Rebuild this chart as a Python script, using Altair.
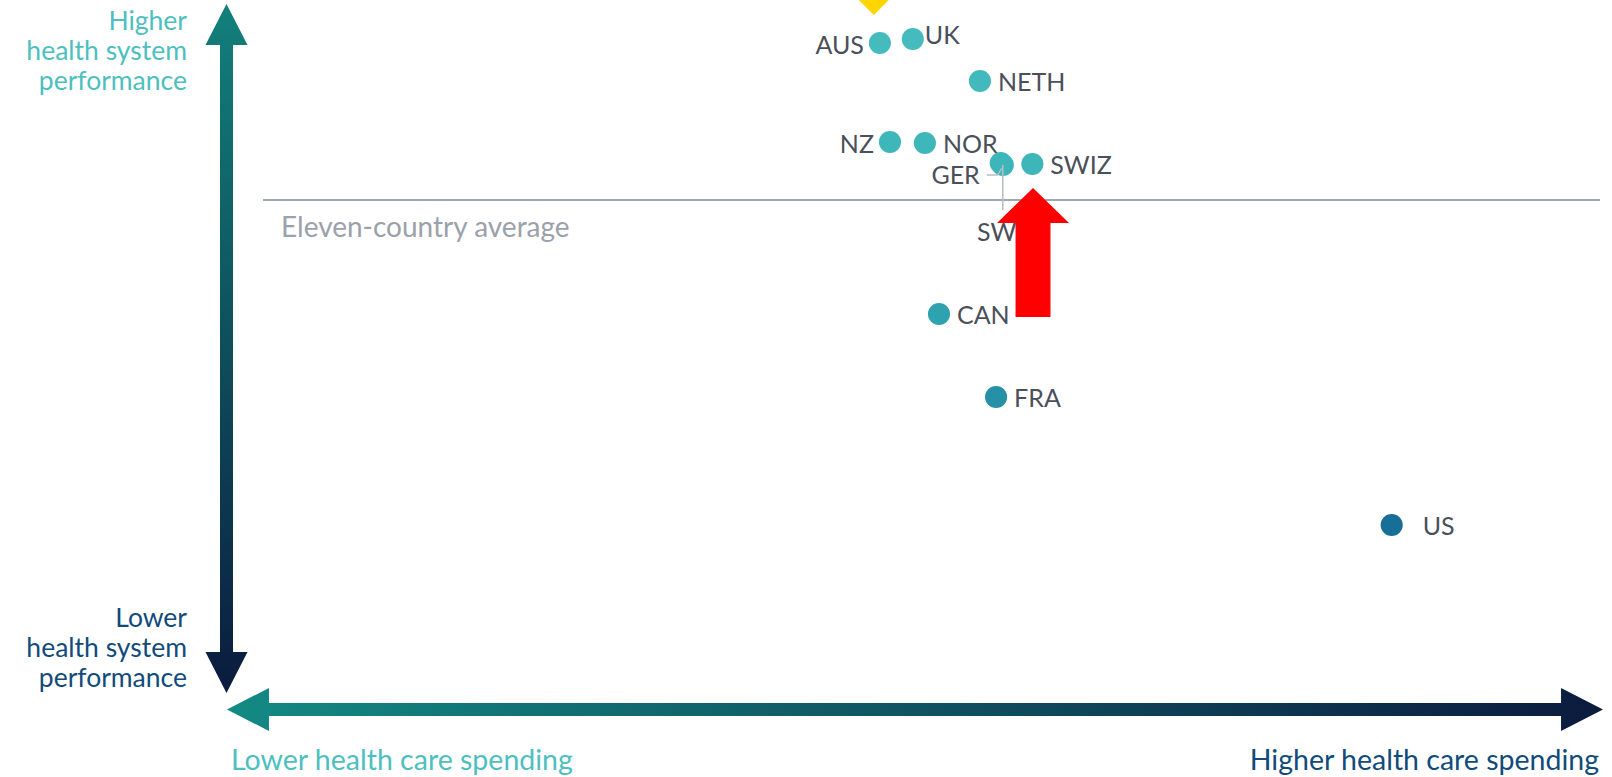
import altair as alt
import pandas as pd

# ---- data ----
countries = ["AUS", "UK", "NETH", "NZ", "NOR", "SWE", "GER", "SWIZ", "CAN", "FRA", "US"]
spending = [9.60, 10.09, 11.09, 9.75, 10.27, 11.43, 11.40, 11.87, 10.48, 11.33, 17.22]
performance = [0.157, 0.161, 0.119, 0.058, 0.057, 0.035, 0.037, 0.036, -0.114, -0.197, -0.325]
average_value = [0.0]
average_label = ["Eleven-country average"]

marker_names = ["diamond", "red arrow"]
marker_x = [9.51, 11.88]
marker_y = [0.203, -0.0525]

y_hi_label = "Higher\nhealth system\nperformance"
y_lo_label = "Lower\nhealth system\nperformance"
x_lo_label = "Lower health care spending"
x_hi_label = "Higher health care spending"

df = pd.DataFrame({"country": countries, "x": spending, "y": performance})
avg = pd.DataFrame({"y": average_value, "label": average_label})
marks = pd.DataFrame({"name": marker_names, "x": marker_x, "y": marker_y})

FONT = "Lato"
LABEL_COLOR = "#4A505B"

xs = alt.Scale(domain=[-3.5, 20.5], nice=False, zero=False)
ys = alt.Scale(domain=[-0.577, 0.2], nice=False, zero=False)
X = alt.X("x:Q", scale=xs, axis=None)
Y = alt.Y("y:Q", scale=ys, axis=None)

base = alt.Chart(df)

# average line + label
avg_line = alt.Chart(avg).mark_rule(color="#A3A9B3", strokeWidth=2).encode(
    y=alt.Y("y:Q", scale=ys, axis=None), x=alt.value(263), x2=alt.value(1600)
)
avg_text = alt.Chart(avg).mark_text(
    align="left", baseline="alphabetic", dy=37, fontSize=28, font=FONT, color="#9BA1AB"
).encode(y=alt.Y("y:Q", scale=ys, axis=None), x=alt.value(281), text="label:N")

# dots
dots = base.mark_circle(size=490, opacity=1).encode(
    x=X, y=Y,
    color=alt.Color(
        "y:Q",
        scale=alt.Scale(
            domain=[-0.325, -0.197, -0.114, 0.04, 0.16],
            range=["#176E96", "#2590A6", "#2FA2B0", "#3DB6B9", "#45BBBD"],
        ),
        legend=None,
    ),
)

# leader lines
lead_swe = base.transform_filter(alt.datum.country == "SWE").mark_rule(
    color="#B8BCC2", strokeWidth=1.5, y2Offset=45
).encode(x=X, y=Y, x2="x:Q", y2="y:Q")
lead_ger1 = base.transform_filter(alt.datum.country == "GER").mark_rule(
    color="#B8BCC2", strokeWidth=1.5, xOffset=-14, x2Offset=-3, yOffset=12, y2Offset=12
).encode(x=X, y=Y, x2="x:Q", y2="y:Q")
lead_ger2 = base.transform_filter(alt.datum.country == "GER").mark_rule(
    color="#B8BCC2", strokeWidth=1.5, xOffset=-3, x2Offset=1, yOffset=12, y2Offset=5
).encode(x=X, y=Y, x2="x:Q", y2="y:Q")


def labels(names, **kw):
    return base.transform_filter(
        alt.FieldOneOfPredicate(field="country", oneOf=names)
    ).mark_text(fontSize=25, font=FONT, color=LABEL_COLOR, baseline="middle", **kw).encode(
        x=X, y=Y, text="country:N"
    )


lab_right = labels(["NETH", "NOR", "SWIZ", "CAN", "FRA"], align="left", dx=18, dy=2)
lab_left = labels(["AUS", "NZ"], align="right", dx=-16, dy=3)
lab_ger = labels(["GER"], align="right", dx=-21, dy=13)
lab_uk = labels(["UK"], align="left", dx=12, dy=-3)
lab_us = labels(["US"], align="left", dx=31, dy=2)
lab_swe = labels(["SWE"], align="center", dx=1, dy=68)

# annotation markers
diamond = alt.Chart(marks).transform_filter(alt.datum.name == "diamond").mark_point(
    shape="diamond", size=1296, filled=True, opacity=1, color="#FFD500", strokeWidth=0
).encode(x=X, y=Y)

red_path = "M0,-1L0.558,-0.457L0.271,-0.457L0.271,1L-0.271,1L-0.271,-0.457L-0.558,-0.457Z"
red_arrow = alt.Chart(marks).transform_filter(alt.datum.name == "red arrow").mark_point(
    shape=red_path, size=16641, filled=True, opacity=1, color="#FF0000", strokeWidth=0
).encode(x=X, y=Y)

# big axis arrows with gradients
one = alt.Data(values=[{"a": 1}])
v_path = ("M0,-1L0.061,-0.881L0.0189,-0.881L0.0189,0.881L0.061,0.881L0,1"
          "L-0.061,0.881L-0.0189,0.881L-0.0189,-0.881L-0.061,-0.881Z")
h_path = ("M-1,0L-0.939,-0.0313L-0.939,-0.0094L0.939,-0.0094L0.939,-0.0313L1,0"
          "L0.939,0.0313L0.939,0.0094L-0.939,0.0094L-0.939,0.0313Z")
v_grad = alt.LinearGradient(
    gradient="linear",
    stops=[alt.GradientStop(offset=0, color="#12807B"), alt.GradientStop(offset=1, color="#0B1B3E")],
    x1=0, y1=0, x2=0, y2=1,
)
h_grad = alt.LinearGradient(
    gradient="linear",
    stops=[alt.GradientStop(offset=0, color="#138A84"), alt.GradientStop(offset=1, color="#0B1B3E")],
    x1=0, y1=0, x2=1, y2=0,
)
v_arrow = alt.Chart(one).mark_point(
    shape=v_path, size=689 * 689, filled=True, opacity=1, fill=v_grad, strokeWidth=0
).encode(x=alt.value(226.5), y=alt.value(348.5))
h_arrow = alt.Chart(one).mark_point(
    shape=h_path, size=1376 * 1376, filled=True, opacity=1, fill=h_grad, strokeWidth=0
).encode(x=alt.value(915), y=alt.value(709.5))


def axis_text(txt, color, x, y, align, size):
    return alt.Chart(alt.Data(values=[{"t": txt}])).mark_text(
        align=align, baseline="alphabetic", lineBreak="\n", lineHeight=30,
        fontSize=size, font=FONT, color=color,
    ).encode(x=alt.value(x), y=alt.value(y), text="t:N")


t_y_hi = axis_text(y_hi_label, "#4DBFBF", 187, 30, "right", 26.5)
t_y_lo = axis_text(y_lo_label, "#114B7B", 187, 627, "right", 26.5)
t_x_lo = axis_text(x_lo_label, "#4DBFBF", 231, 770, "left", 28.5)
t_x_hi = axis_text(x_hi_label, "#114B7B", 1599, 770, "right", 28.5)

chart = alt.layer(
    v_arrow, h_arrow, avg_line, avg_text, diamond, dots,
    lead_swe, lead_ger1, lead_ger2,
    lab_right, lab_left, lab_ger, lab_uk, lab_us, lab_swe,
    red_arrow, t_y_hi, t_y_lo, t_x_lo, t_x_hi,
).properties(
    width=1612, height=777, padding=0,
    autosize=alt.AutoSizeParams(type="none"),
    background="white",
).configure_view(stroke=None)

chart.save("out.html", embed_options={"renderer": "svg", "actions": False})
